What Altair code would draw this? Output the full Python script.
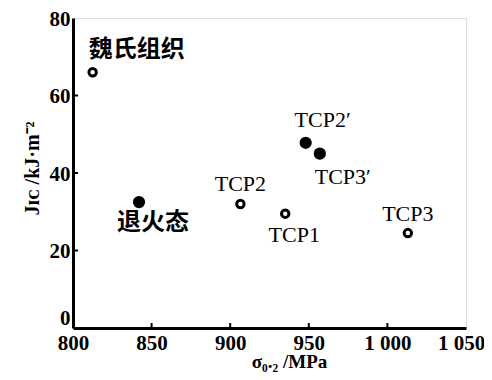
import altair as alt
import pandas as pd

labels = ["魏氏组织", "退火态", "TCP2", "TCP1", "TCP3", "TCP2′", "TCP3′"]
strength = [812.5, 842, 906.5, 935, 1013, 948, 957]
toughness = [66, 32.5, 32, 29.5, 24.5, 47.8, 45]
filled = [False, True, False, False, False, True, True]

x_ticks = [800, 850, 900, 950, 1000, 1050]
x_tick_labels = ["800", "850", "900", "950", "1 000", "1 050"]
y_ticks = [0, 20, 40, 60, 80]

df = pd.DataFrame({"label": labels, "s": strength, "j": toughness, "filled": filled})

# label offsets (px) relative to the point
offsets = {
    "魏氏组织": (44, -22),
    "退火态": (14, 21),
    "TCP2": (0, -20),
    "TCP1": (9, 21),
    "TCP3": (0, -19),
    "TCP2′": (17, -23),
    "TCP3′": (23, 23),
}

W, H = 393, 310
xs = alt.Scale(domain=[800, 1050], nice=False, zero=False)
ys = alt.Scale(domain=[0, 80], nice=False)

label_expr = ("datum.value == 1000 ? '" + x_tick_labels[4] + "' : datum.value == 1050 ? '"
              + x_tick_labels[5] + "' : datum.label")

base = alt.Chart(df)

x_enc = alt.X("s:Q", scale=xs, axis=alt.Axis(
    values=x_ticks, tickSize=0, labelExpr=label_expr, grid=False, labelFlush=False,
    domainColor="black", domainWidth=3, labelFont="Liberation Serif",
    labelFontWeight="bold", labelFontSize=21, labelColor="black", labelPadding=4,
    labelOffset={"condition": {"test": "datum.value == 1050", "value": -5}, "value": 0},
    title="σ₀.₂ /MPa", titleFont="Liberation Serif", titleFontSize=19,
    titleFontWeight="bold", titleColor="black", titleX=216, titleY=39,
    titleBaseline="alphabetic"))
y_enc = alt.Y("j:Q", scale=ys, axis=alt.Axis(
    values=y_ticks, tickSize=0, grid=False, labelFlush=False,
    domainColor="black", domainWidth=3,
    labelFont="Liberation Serif", labelFontWeight="bold", labelFontSize=21,
    labelColor="black", labelPadding=3,
    labelOffset={"condition": {"test": "datum.value == 0", "value": -10}, "value": 1},
    title="Jɪᴄ /kJ·m⁻²", titleFont="Liberation Serif", titleFontSize=20,
    titleFontWeight="bold", titleColor="black", titlePadding=7, titleY=150))

open_pts = base.transform_filter("!datum.filled").mark_point(
    shape="circle", filled=False, size=55, strokeWidth=3, color="black", opacity=1
).encode(x=x_enc, y=y_enc)

filled_pts = base.transform_filter("datum.filled").mark_circle(
    size=150, color="black", opacity=1
).encode(x="s:Q", y="j:Q")

text_layers = []
for lab, (dx, dy) in offsets.items():
    is_cjk = not lab.startswith("TCP")
    text_layers.append(
        base.transform_filter(alt.datum.label == lab).mark_text(
            dx=dx, dy=dy, align="center", baseline="middle",
            font="Noto Sans CJK SC" if is_cjk else "Liberation Serif",
            fontSize=24 if is_cjk else 22,
            fontWeight="bold" if is_cjk else "normal", color="black"
        ).encode(x="s:Q", y="j:Q", text="label:N")
    )

tx = pd.DataFrame({"t": x_ticks[1:-1]})
ty = pd.DataFrame({"t": y_ticks[1:-1]})
xtick_marks = alt.Chart(tx).mark_rule(color="black", strokeWidth=2).encode(
    x=alt.X("t:Q", scale=xs), y=alt.value(H), y2=alt.value(H - 5))
ytick_marks = alt.Chart(ty).mark_rule(color="black", strokeWidth=2).encode(
    y=alt.Y("t:Q", scale=ys), x=alt.value(0), x2=alt.value(5))

chart = alt.layer(open_pts, filled_pts, xtick_marks, ytick_marks, *text_layers).properties(
    width=W, height=H,
    padding={"left": 65, "top": 10, "right": 18, "bottom": 44},
    autosize=alt.AutoSizeParams(type="none"),
).configure_view(stroke="black", strokeWidth=2.5).configure(background="white")

chart.save("out.html", embed_options={"renderer": "svg", "actions": False})
